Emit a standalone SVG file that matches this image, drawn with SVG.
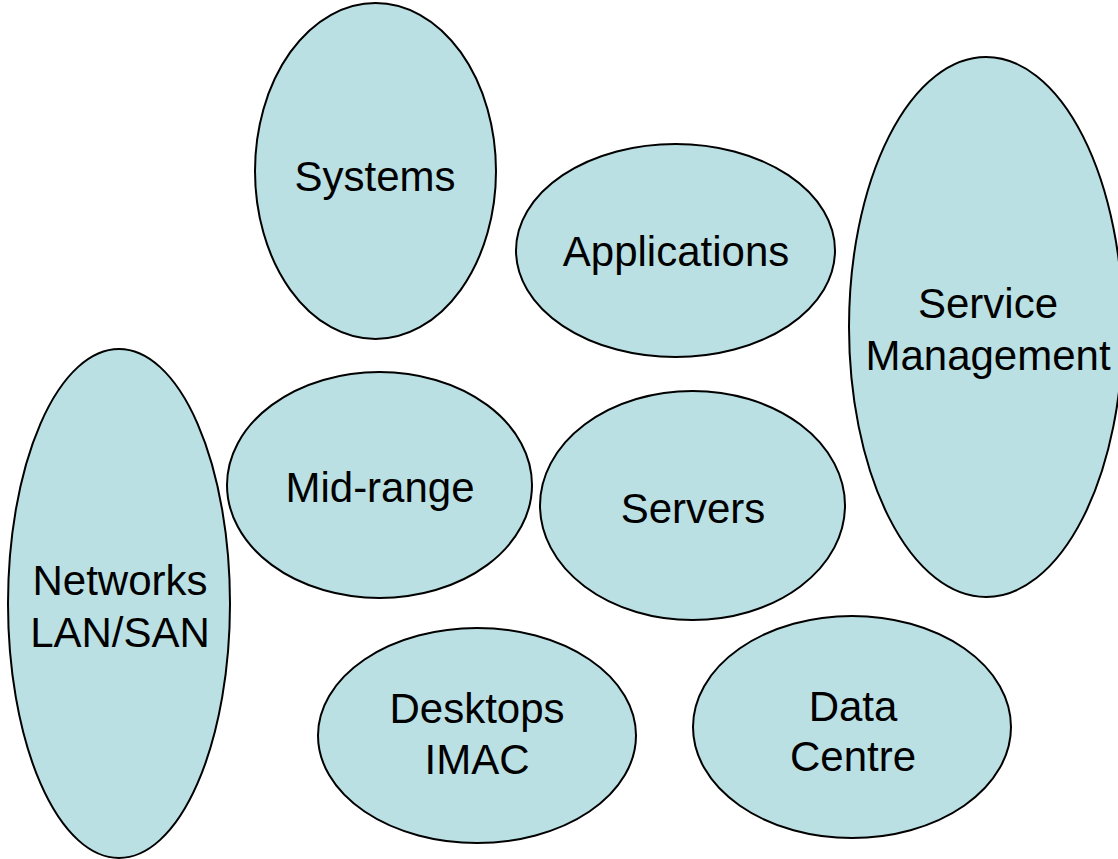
<svg xmlns="http://www.w3.org/2000/svg" width="1118" height="859" viewBox="0 0 1118 859">
<style>
.n{fill:#BAE0E3;stroke:#000;stroke-width:2}
.t{font-family:"Liberation Sans",Arial,sans-serif;font-size:42px;fill:#000;text-anchor:middle}
</style>
<rect width="1118" height="859" fill="#fff"/>
<g id="connectors"/>
<g id="systems"><ellipse class="n" cx="375.5" cy="171" rx="120.5" ry="168"/><text class="t" x="375" y="191">Systems</text></g>
<g id="applications"><ellipse class="n" cx="675.5" cy="250.5" rx="159.5" ry="106.5"/><text class="t" x="676" y="266">Applications</text></g>
<g id="service-management"><ellipse class="n" cx="986" cy="327" rx="137" ry="270"/><text class="t" x="988" y="318">Service</text><text class="t" x="988" y="370">Management</text></g>
<g id="networks"><ellipse class="n" cx="119" cy="603.5" rx="111" ry="254.5"/><text class="t" x="120" y="595">Networks</text><text class="t" x="120" y="647">LAN/SAN</text></g>
<g id="mid-range"><ellipse class="n" cx="379.5" cy="485" rx="152.5" ry="113"/><text class="t" x="380" y="502">Mid-range</text></g>
<g id="servers"><ellipse class="n" cx="692.5" cy="505.5" rx="152.5" ry="114.5"/><text class="t" x="693" y="523">Servers</text></g>
<g id="desktops"><ellipse class="n" cx="477" cy="735.5" rx="159" ry="107.5"/><text class="t" x="477" y="723">Desktops</text><text class="t" x="477" y="774">IMAC</text></g>
<g id="data-centre"><ellipse class="n" cx="852" cy="727" rx="159" ry="111"/><text class="t" x="853" y="721">Data</text><text class="t" x="853" y="771">Centre</text></g>
</svg>
